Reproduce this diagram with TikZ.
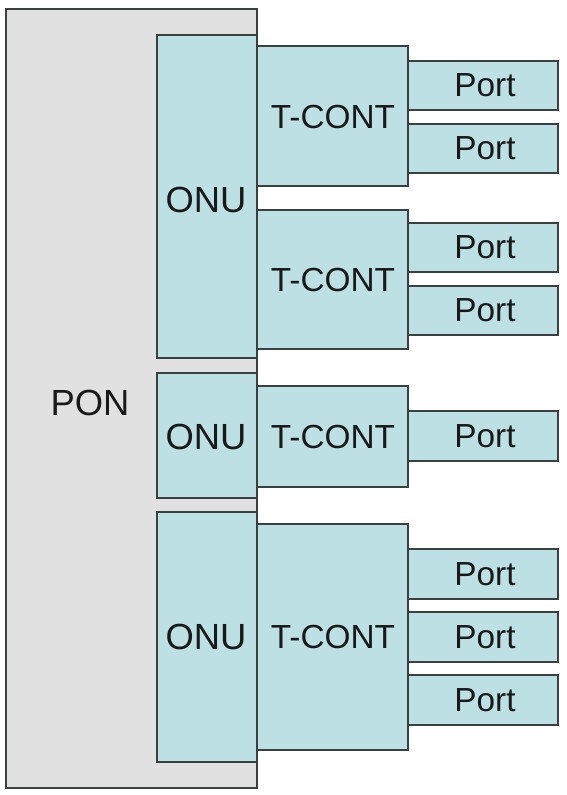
\documentclass[tikz,border=0pt]{standalone}
\usepackage{fontspec}
\setmainfont{Liberation Sans}
\definecolor{ponfill}{HTML}{E1E1E1}
\definecolor{onufill}{HTML}{BDE0E4}
\definecolor{edge}{HTML}{3A3F40}
\begin{document}
\begin{tikzpicture}[x=1bp,y=-1bp,
  ponbox/.style={draw=edge,line width=1.3bp,fill=ponfill},
  bluebox/.style={draw=edge,line width=1.3bp,fill=onufill},
  lbl/.style={font=\fontsize{33.5}{33.5}\selectfont,text=black!90,inner sep=0pt},
  biglbl/.style={font=\fontsize{36.5}{36.5}\selectfont,text=black!90,inner sep=0pt}]
\useasboundingbox[fill=white] (0,0) rectangle (567,795);
% PON
\draw[ponbox] (6,9) rectangle (257,788);
\node[biglbl] (pon) at (90,403) {PON};
% ONUs
\draw[bluebox] (157,35) rectangle (257,358);
\draw[bluebox] (157,373) rectangle (257,498);
\draw[bluebox] (157,512) rectangle (257,762);
\node[biglbl] (onu1) at (206,200) {ONU};
\node[biglbl] (onu2) at (206,437) {ONU};
\node[biglbl] (onu3) at (206,637) {ONU};
% T-CONTs
\draw[bluebox] (257,46) rectangle (408,186);
\draw[bluebox] (257,210) rectangle (408,349);
\draw[bluebox] (257,386) rectangle (408,487);
\draw[bluebox] (257,524) rectangle (408,750);
\node[lbl] (tc1) at (333,117) {T-CONT};
\node[lbl] (tc2) at (333,280) {T-CONT};
\node[lbl] (tc3) at (333,437) {T-CONT};
\node[lbl] (tc4) at (333,637) {T-CONT};
% Ports
\foreach \t/\b/\n in {61/110/p1,124/173/p2,223/272/p3,286/335/p4,411/461/p5,549/599/p6,612/662/p7,675/725/p8}{
  \draw[bluebox] (408,\t) rectangle (558,\b);
  \node[lbl] (\n) at (485,{(\t+\b)/2}) {Port};
}
\end{tikzpicture}
\end{document}
